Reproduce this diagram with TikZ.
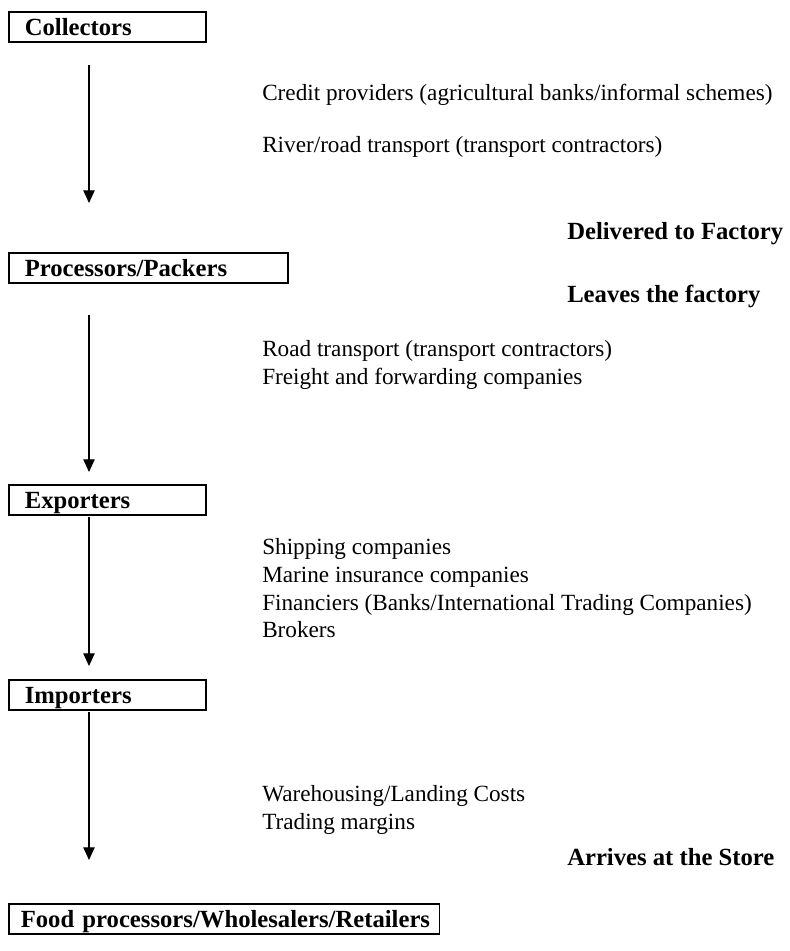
\documentclass[tikz,border=0pt]{standalone}
\usepackage{fontspec}
\setmainfont{Liberation Serif}
\usetikzlibrary{arrows.meta}
\tikzstyle{stage}=[draw,line width=1.2pt,anchor=north west,minimum height=22.5pt,inner xsep=12pt,text height=12.5pt,text depth=0pt,align=left,font=\fontsize{18.5}{22}\selectfont\bfseries]
\tikzstyle{service}=[anchor=mid west,inner sep=0pt,font=\fontsize{17.4}{21}\selectfont]
\tikzstyle{event}=[anchor=mid west,inner sep=0pt,font=\fontsize{18.5}{22}\selectfont\bfseries]
\tikzstyle{flow}=[line width=0.9pt,-{Triangle[width=8.5pt,length=9.5pt]}]
\begin{document}
\begin{tikzpicture}[x=0.75pt,y=-0.75pt]
\useasboundingbox (0,0) rectangle (790,951);

% the chain of stages
\node[stage,text width=123.75pt] (collectors) at (8,11) {Collectors};
\node[stage,text width=185.25pt] (processors) at (8,252) {Processors/Packers};
\node[stage,text width=123.75pt] (exporters) at (8,484) {Exporters};
\node[stage,text width=123.75pt] (importers) at (8,679) {Importers};
\node[stage,inner xsep=9pt,text width=305pt] (food) at (8,903) {\mbox{Food processors/Wholesalers/Retailers}};

% flows between stages
\coordinate (f1s) at (89,65);  \coordinate (f1e) at (89,203);
\coordinate (f2s) at (89,315); \coordinate (f2e) at (89,472);
\coordinate (f3s) at (89,517); \coordinate (f3e) at (89,666);
\coordinate (f4s) at (89,712); \coordinate (f4e) at (89,860);
\draw[flow] (f1s) -- (f1e);
\draw[flow] (f2s) -- (f2e);
\draw[flow] (f3s) -- (f3e);
\draw[flow] (f4s) -- (f4e);

% services along each flow
\node[service] (credit) at (262,97) {Credit providers (agricultural banks/informal schemes)};
\node[service] (river) at (262,149) {River/road transport (transport contractors)};
\node[service] (road) at (262,353) {Road transport (transport contractors)};
\node[service] (freight) at (262,381) {Freight and forwarding companies};
\node[service] (shipping) at (262,551) {Shipping companies};
\node[service] (marine) at (262,579) {Marine insurance companies};
\node[service] (financiers) at (262,607) {Financiers (Banks/International Trading Companies)};
\node[service] (brokers) at (262,634) {Brokers};
\node[service] (warehousing) at (262,798) {Warehousing/Landing Costs};
\node[service] (trading) at (262,826) {Trading margins};

% events
\node[event] (delivered) at (567,236) {Delivered to Factory};
\node[event] (leaves) at (567,299) {Leaves the factory};
\node[event] (arrives) at (567,862) {Arrives at the Store};
\end{tikzpicture}
\end{document}
